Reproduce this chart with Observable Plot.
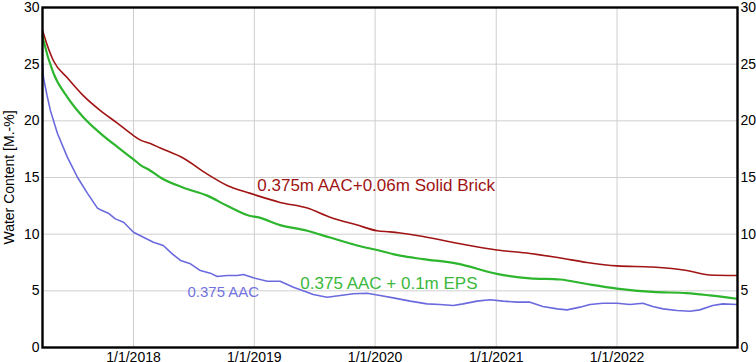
<!DOCTYPE html>
<html>
<head>
<meta charset="utf-8">
<script src="https://cdn.jsdelivr.net/npm/d3@7"></script>
<script src="https://cdn.jsdelivr.net/npm/@observablehq/plot@0.6"></script>
<style>
  html, body { margin: 0; padding: 0; background: #fff; }
  #chart { width: 756px; height: 362px; overflow: hidden; }
</style>
</head>
<body>
<div id="chart"></div>
<script>
// Series: 0.375m AAC + 0.06m Solid Brick
const brickSeries = [
  ["2017-04-01", 28.0], ["2017-04-04", 27.7], ["2017-05-04", 25.3], ["2017-06-15", 23.8],
  ["2017-08-03", 22.2], ["2017-09-23", 20.9], ["2017-11-13", 19.8], ["2018-01-01", 18.7],
  ["2018-01-22", 18.3], ["2018-02-21", 18.0], ["2018-03-23", 17.6], ["2018-06-01", 16.7],
  ["2018-08-12", 15.3], ["2018-10-11", 14.3], ["2018-12-20", 13.6], ["2019-01-10", 13.4],
  ["2019-03-20", 12.8], ["2019-06-10", 12.3], ["2019-08-18", 11.5], ["2019-11-08", 10.8],
  ["2020-01-07", 10.3], ["2020-02-15", 10.2], ["2020-03-17", 10.1], ["2020-05-25", 9.8],
  ["2020-09-05", 9.2], ["2021-01-03", 8.6], ["2021-04-13", 8.3], ["2021-07-13", 7.9],
  ["2021-10-02", 7.5], ["2022-01-01", 7.2], ["2022-04-19", 7.1], ["2022-07-31", 6.8],
  ["2022-10-08", 6.4], ["2022-12-29", 6.35]
];
// Series: 0.375 AAC + 0.1m EPS
const epsSeries = [
  ["2017-04-01", 27.5], ["2017-04-04", 27.1], ["2017-05-04", 24.2], ["2017-06-15", 22.1],
  ["2017-08-03", 20.3], ["2017-09-23", 18.9], ["2017-11-13", 17.7], ["2018-01-01", 16.6],
  ["2018-01-22", 16.1], ["2018-02-21", 15.6], ["2018-03-23", 15.0], ["2018-06-01", 14.1],
  ["2018-08-12", 13.4], ["2018-10-11", 12.5], ["2018-12-20", 11.6], ["2019-01-10", 11.5],
  ["2019-03-20", 10.8], ["2019-06-10", 10.3], ["2019-08-18", 9.7], ["2019-11-08", 9.0],
  ["2020-01-07", 8.6], ["2020-03-17", 8.1], ["2020-05-25", 7.8], ["2020-09-05", 7.4],
  ["2021-01-03", 6.5], ["2021-04-13", 6.1], ["2021-07-13", 6.0], ["2021-10-02", 5.6],
  ["2022-01-01", 5.2], ["2022-04-19", 4.9], ["2022-07-31", 4.8], ["2022-10-08", 4.6],
  ["2022-12-29", 4.3]
];
// Series: 0.375 AAC
const aacSeries = [
  ["2017-04-01", 25.0], ["2017-04-04", 23.8], ["2017-04-15", 22.2], ["2017-04-25", 20.9],
  ["2017-05-16", 18.9], ["2017-06-15", 16.8], ["2017-07-16", 15.0], ["2017-08-15", 13.6],
  ["2017-09-14", 12.3], ["2017-09-23", 12.15], ["2017-10-17", 11.85], ["2017-11-07", 11.35],
  ["2017-12-02", 11.05], ["2018-01-01", 10.17], ["2018-01-31", 9.73], ["2018-03-02", 9.29],
  ["2018-04-01", 9.0], ["2018-04-28", 8.26], ["2018-05-23", 7.68], ["2018-06-22", 7.38],
  ["2018-07-22", 6.79], ["2018-08-21", 6.56], ["2018-09-11", 6.26], ["2018-10-11", 6.35],
  ["2018-11-11", 6.35], ["2018-11-29", 6.44], ["2018-12-29", 6.15], ["2019-02-09", 5.85],
  ["2019-03-20", 5.85], ["2019-04-29", 5.32], ["2019-06-10", 4.88], ["2019-06-28", 4.68],
  ["2019-08-09", 4.44], ["2019-09-18", 4.59], ["2019-10-27", 4.74], ["2019-12-08", 4.79],
  ["2020-01-16", 4.59], ["2020-02-25", 4.38], ["2020-04-16", 4.09], ["2020-06-06", 3.85],
  ["2020-07-15", 3.79], ["2020-08-24", 3.71], ["2020-09-23", 3.85], ["2020-11-04", 4.09],
  ["2020-12-13", 4.21], ["2021-01-22", 4.09], ["2021-03-05", 4.0], ["2021-04-13", 4.0],
  ["2021-05-22", 3.62], ["2021-07-04", 3.41], ["2021-08-03", 3.32], ["2021-09-11", 3.56],
  ["2021-10-11", 3.79], ["2021-11-19", 3.91], ["2022-01-01", 3.91], ["2022-02-09", 3.79],
  ["2022-03-20", 3.91], ["2022-04-19", 3.62], ["2022-05-20", 3.41], ["2022-07-01", 3.26],
  ["2022-08-09", 3.2], ["2022-09-08", 3.32], ["2022-10-17", 3.71], ["2022-11-17", 3.85],
  ["2022-12-29", 3.79]
];

const seriesNames = ["0.375m AAC+0.06m Solid Brick", "0.375 AAC + 0.1m EPS", "0.375 AAC"];
const yTicks = [0, 5, 10, 15, 20, 25, 30];
const xTickDates = ["2018-01-01", "2019-01-01", "2020-01-01", "2021-01-01", "2022-01-01"];
const xDomain = ["2017-04-01", "2022-12-31"];
const yLabel = "Water Content [M.-%]";

// label anchor points in data coordinates [date, value]
const labelAnchors = [["2019-01-10", 13.85], ["2019-05-20", 5.12], ["2018-06-13", 4.5]];

const parse = d3.utcParse("%Y-%m-%d");
const toRows = (s) => s.map(([d, v]) => ({date: parse(d), value: v}));

const RED = "#a01414", GREEN = "#2db52d", BLUE = "#6a6ade";

const labels = seriesNames.map((name, i) => ({
  name, date: parse(labelAnchors[i][0]), value: labelAnchors[i][1]
}));

const chart = Plot.plot({
  width: 756,
  height: 362,
  marginLeft: 42,
  marginRight: 19,
  marginTop: 7,
  marginBottom: 15,
  style: {fontFamily: "'Liberation Sans', Arial, sans-serif", fontSize: "14px", background: "#fff", color: "#000"},
  x: {type: "utc", domain: xDomain.map(parse)},
  y: {domain: [0, 30]},
  marks: [
    Plot.gridY(yTicks, {stroke: "#cfcfcf", strokeOpacity: 1, strokeWidth: 1}),
    Plot.gridX(xTickDates.map(parse), {stroke: "#cfcfcf", strokeOpacity: 1, strokeWidth: 1}),
    Plot.line(toRows(brickSeries), {x: "date", y: "value", stroke: RED, strokeWidth: 1.6, curve: "monotone-x"}),
    Plot.line(toRows(epsSeries), {x: "date", y: "value", stroke: GREEN, strokeWidth: 2.2, curve: "monotone-x"}),
    Plot.line(toRows(aacSeries), {x: "date", y: "value", stroke: BLUE, strokeWidth: 1.6}),
    Plot.text([labels[0]], {x: "date", y: "value", text: "name", fill: "#a01414", fontSize: 17, textAnchor: "start", lineAnchor: "bottom", letterSpacing: 1}),
    Plot.text([labels[1]], {x: "date", y: "value", text: "name", fill: "#3cb83c", fontSize: 17, textAnchor: "start", lineAnchor: "bottom", letterSpacing: 1}),
    Plot.text([labels[2]], {x: "date", y: "value", text: "name", fill: "#7373dd", fontSize: 15, textAnchor: "start", lineAnchor: "bottom", letterSpacing: 0.3}),
    Plot.axisY({anchor: "left", ticks: yTicks, tickSize: 0, tickPadding: 3, label: yLabel, labelAnchor: "center", labelArrow: "none", labelOffset: 38, fontSize: 14}),
    Plot.axisY({anchor: "right", ticks: yTicks, tickSize: 0, tickPadding: 3, label: null, fontSize: 14}),
    Plot.axisX({ticks: xTickDates.map(parse), tickFormat: d3.utcFormat("%-m/%-d/%Y"), tickSize: 0, tickPadding: 5, label: null, fontSize: 14}),
    Plot.frame({stroke: "#000", strokeWidth: 2.4})
  ]
});
document.getElementById("chart").appendChild(chart);
</script>
</body>
</html>
